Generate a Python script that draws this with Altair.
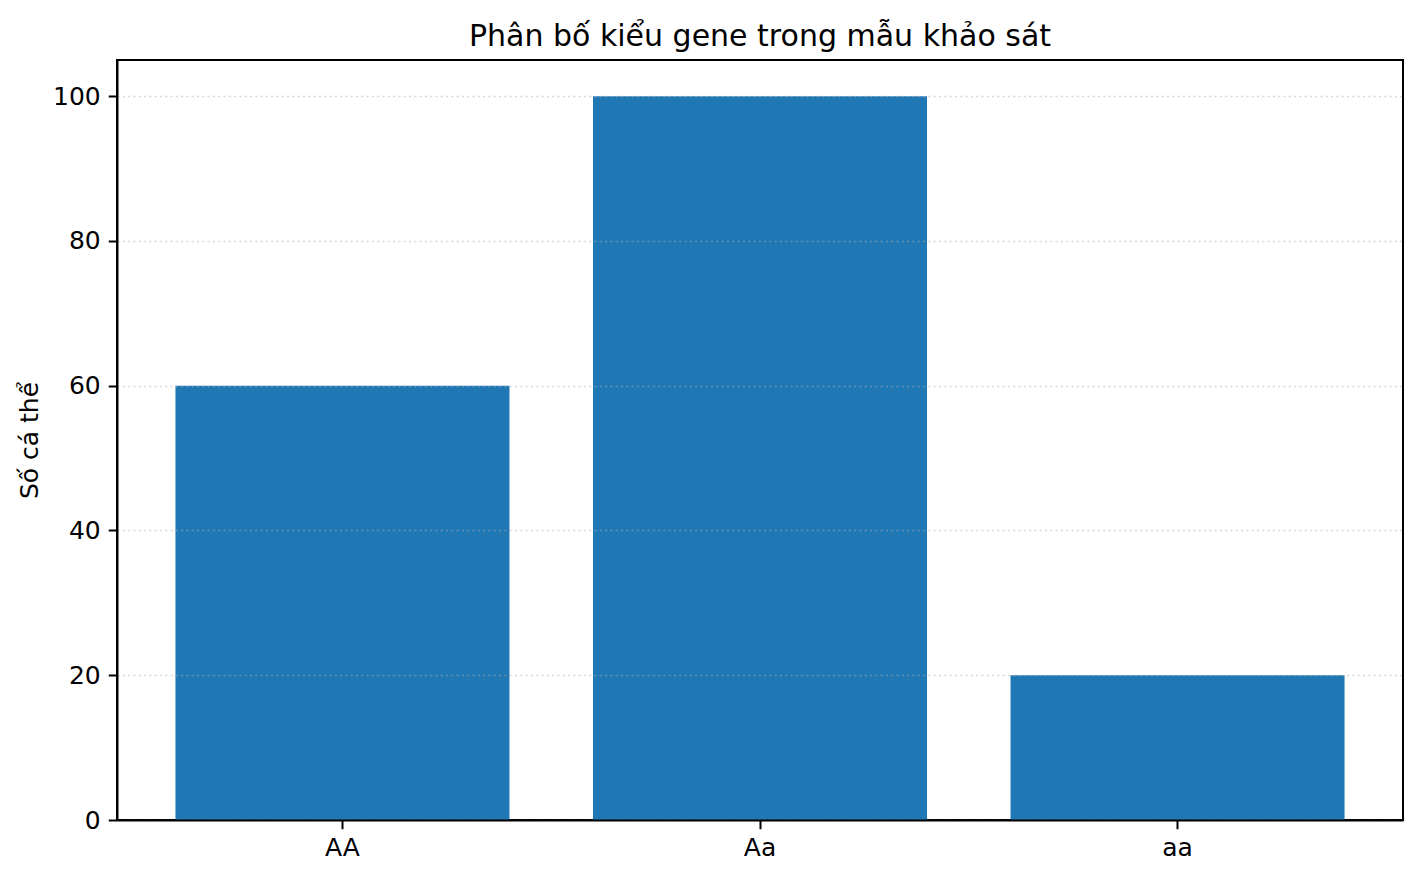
import altair as alt
import pandas as pd

genotypes = ["AA", "Aa", "aa"]
counts = [60, 100, 20]

df = pd.DataFrame({"kieu_gene": genotypes, "so_ca_the": counts})

FONT = "DejaVu Sans"
FS = 25
LW = 2

chart = alt.Chart(df).mark_bar(color="#1f77b4").encode(
    x=alt.X("kieu_gene:N", sort=genotypes, title=None,
            scale=alt.Scale(paddingInner=0.2, paddingOuter=0.14),
            axis=alt.Axis(labelAngle=0, labelPadding=7, tickSize=8.75, tickWidth=LW,
                          tickColor="black", domainColor="black", domainWidth=LW,
                          labelFontSize=FS, labelFont=FONT, labelColor="black", grid=False,
                          zindex=2)),
    y=alt.Y("so_ca_the:Q", title="Số cá thể",
            scale=alt.Scale(domain=[0, 105], nice=False),
            axis=alt.Axis(values=[0, 20, 40, 60, 80, 100], tickSize=8.75, tickWidth=LW,
                          tickColor="black", domainColor="black", domainWidth=LW,
                          labelFontSize=FS, labelFont=FONT, labelColor="black", labelPadding=8,
                          titleFontSize=FS, titleFont=FONT, titleFontWeight="normal",
                          titleColor="black", titlePadding=10,
                          grid=True, gridColor="#b0b0b0", gridDash=[2, 3.3], gridOpacity=0.5,
                          gridWidth=1.5, zindex=1)),
).properties(
    width=1286,
    height=760,
    background="white",
    title=alt.TitleParams("Phân bố kiểu gene trong mẫu khảo sát", fontSize=30, font=FONT,
                          fontWeight="normal", color="black", anchor="middle", offset=8),
    autosize=alt.AutoSizeParams(type="none"),
    padding={"left": 109, "top": 52, "right": 9, "bottom": 51},
).configure_view(stroke="black", strokeWidth=LW)

chart.save("out.html", embed_options={"renderer": "svg", "actions": False})
